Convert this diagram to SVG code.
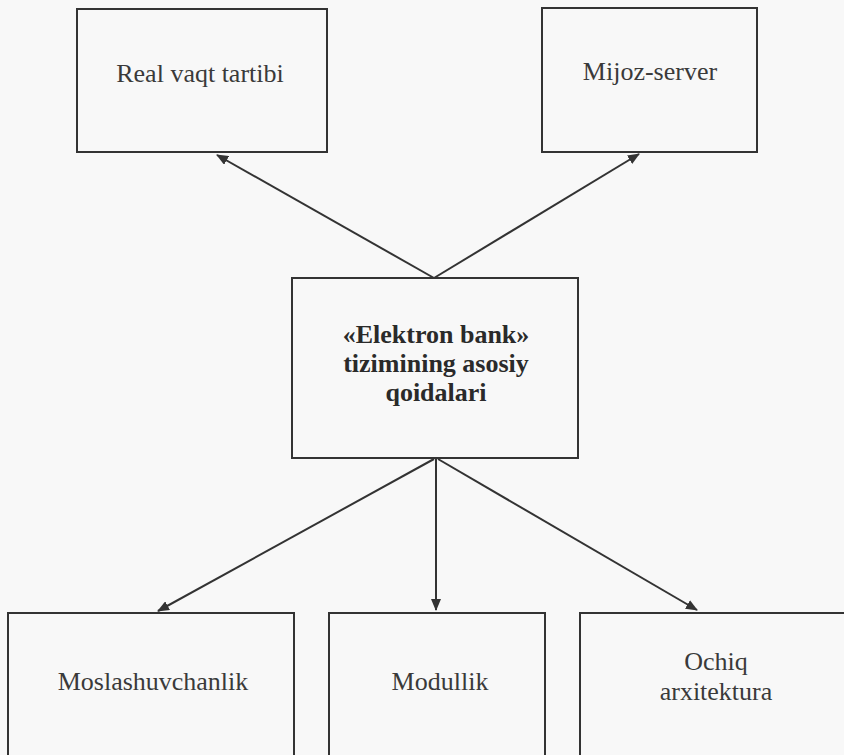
<svg xmlns="http://www.w3.org/2000/svg" width="844" height="755" viewBox="0 0 844 755">
<style>
.box{fill:none;stroke:#333;stroke-width:2}
.lbl{font-family:'Liberation Serif','DejaVu Serif',serif;font-size:26px;fill:#3a3a3a;text-anchor:middle}
.bold{font-weight:bold;fill:#2a2a2a}
.conn{stroke:#333;stroke-width:2;fill:none;marker-end:url(#ah)}
</style>
<defs>
<marker id="ah" viewBox="0 0 12 10" refX="11" refY="5" markerWidth="12" markerHeight="10" markerUnits="userSpaceOnUse" orient="auto">
<path d="M0,0 L12,5 L0,10 Z" fill="#333"/>
</marker>
</defs>
<rect width="844" height="755" fill="#f8f8f8"/>
<g id="connectors">
<line class="conn" x1="434" y1="278" x2="217" y2="155"/>
<line class="conn" x1="434" y1="278" x2="639" y2="154"/>
<line class="conn" x1="434" y1="459" x2="158" y2="611"/>
<line class="conn" x1="436" y1="459" x2="436" y2="610"/>
<line class="conn" x1="438" y1="459" x2="697" y2="610"/>
</g>
<g id="real">
<rect class="box" x="77" y="9" width="250" height="143"/>
<text class="lbl" x="200" y="82" font-family="Liberation Serif, serif">Real vaqt tartibi</text>
</g>
<g id="mijoz">
<rect class="box" x="542" y="8" width="215" height="144"/>
<text class="lbl" x="650" y="80">Mijoz-server</text>
</g>
<g id="center">
<rect class="box" x="292" y="278" width="286" height="180"/>
<text class="lbl bold" x="436" y="343">«Elektron bank»</text>
<text class="lbl bold" x="436" y="372">tizimining asosiy</text>
<text class="lbl bold" x="436" y="401">qoidalari</text>
</g>
<g id="moslash">
<rect class="box" x="8" y="613" width="286" height="160"/>
<text class="lbl" x="153" y="690">Moslashuvchanlik</text>
</g>
<g id="modul">
<rect class="box" x="329" y="613" width="216" height="160"/>
<text class="lbl" x="440" y="690">Modullik</text>
</g>
<g id="ochiq">
<rect class="box" x="580" y="613" width="280" height="160"/>
<text class="lbl" x="716" y="670">Ochiq</text>
<text class="lbl" x="716" y="700">arxitektura</text>
</g>
</svg>
